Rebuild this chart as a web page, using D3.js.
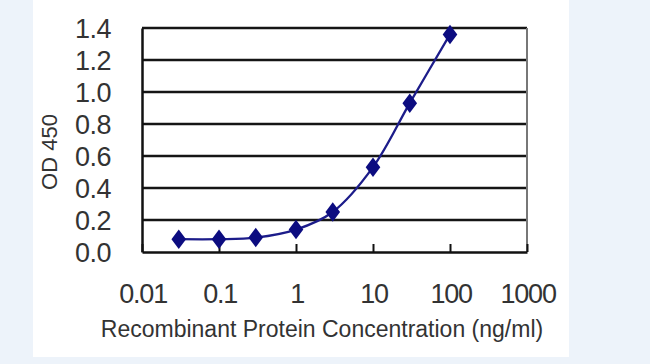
<!DOCTYPE html>
<html>
<head>
<meta charset="utf-8">
<script src="https://cdn.jsdelivr.net/npm/d3@7"></script>
<style>
  html, body { margin: 0; padding: 0; background: #edf3fa; }
  svg { display: block; }
</style>
</head>
<body>
<svg id="chart" width="650" height="364"></svg>
<script>
const concentrations = [0.03, 0.1, 0.3, 1, 3, 10, 30, 100];
const odValues = [0.08, 0.08, 0.09, 0.14, 0.25, 0.53, 0.93, 1.36];
const xTicks = [0.01, 0.1, 1, 10, 100, 1000];
const xTickLabels = ["0.01", "0.1", "1", "10", "100", "1000"];
const yTicks = [0.0, 0.2, 0.4, 0.6, 0.8, 1.0, 1.2, 1.4];
const yTickLabels = ["0.0", "0.2", "0.4", "0.6", "0.8", "1.0", "1.2", "1.4"];
const xTitle = "Recombinant Protein Concentration (ng/ml)";
const yTitle = "OD 450";

(function () {
const svg = d3.select("#chart");
const font = "'Liberation Sans', Arial, sans-serif";

// white panel
svg.append("rect").attr("x", 33).attr("y", 0).attr("width", 536).attr("height", 357).attr("fill", "#ffffff");

const pL = 142, pR = 527, pT = 28, pB = 252;
const x = d3.scaleLog().domain([0.01, 1000]).range([pL, pR]);
const y = d3.scaleLinear().domain([0, 1.4]).range([pB, pT]);

// gridlines
svg.append("g").selectAll("line").data(yTicks.filter(v => v > 0)).join("line")
  .attr("x1", pL).attr("x2", pR)
  .attr("y1", d => y(d)).attr("y2", d => y(d))
  .attr("stroke", "#151515").attr("stroke-width", 2.5);

// right border
svg.append("line").attr("x1", pR).attr("x2", pR).attr("y1", pT).attr("y2", pB)
  .attr("stroke", "#777").attr("stroke-width", 2);

// x axis
const xAxis = d3.axisBottom(x).tickValues(xTicks).tickSize(-8).tickSizeOuter(0)
  .tickFormat((d, i) => xTickLabels[i]);
const gx = svg.append("g").attr("transform", `translate(0,${pB})`).call(xAxis);
gx.select(".domain").attr("stroke", "#111").attr("stroke-width", 2.5);
gx.selectAll(".tick line").attr("stroke", "#111").attr("stroke-width", 2);
gx.selectAll(".tick text").attr("font-family", font).attr("font-size", 27)
  .attr("fill", "#333").attr("letter-spacing", "-1.2px").attr("dy", 0).attr("y", 51)
  .attr("dx", "0.6px");

// y axis
const yAxis = d3.axisLeft(y).tickValues(yTicks).tickSize(0).tickSizeOuter(0)
  .tickFormat((d, i) => yTickLabels[i]).tickPadding(31);
const gy = svg.append("g").attr("transform", `translate(${pL},0)`).call(yAxis);
gy.select(".domain").attr("stroke", "#111").attr("stroke-width", 2.5);
gy.selectAll(".tick text").attr("font-family", font).attr("font-size", 27)
  .attr("fill", "#333").attr("letter-spacing", "-0.5px").attr("dy", "0.36em");

// line
const pts = concentrations.map((c, i) => [x(c), y(odValues[i])]);
svg.append("path").datum(pts)
  .attr("d", d3.line().curve(d3.curveCatmullRom.alpha(0.5)))
  .attr("fill", "none").attr("stroke", "#1c1c8a").attr("stroke-width", 2.3);

// markers
const diamond = d3.symbol().type(d3.symbolDiamond).size(110);
svg.append("g").selectAll("path").data(pts).join("path")
  .attr("d", diamond)
  .attr("transform", d => `translate(${d[0]},${d[1]}) scale(1.3,1)`)
  .attr("fill", "#0c0c80");

// titles
svg.append("text").attr("x", 322).attr("y", 337).attr("text-anchor", "middle")
  .attr("font-family", font).attr("font-size", 23).attr("fill", "#333")
  .text(xTitle);
svg.append("text").attr("transform", "translate(57,152) rotate(-90)").attr("text-anchor", "middle")
  .attr("font-family", font).attr("font-size", 22).attr("fill", "#333").text(yTitle);
})();
</script>
</body>
</html>
